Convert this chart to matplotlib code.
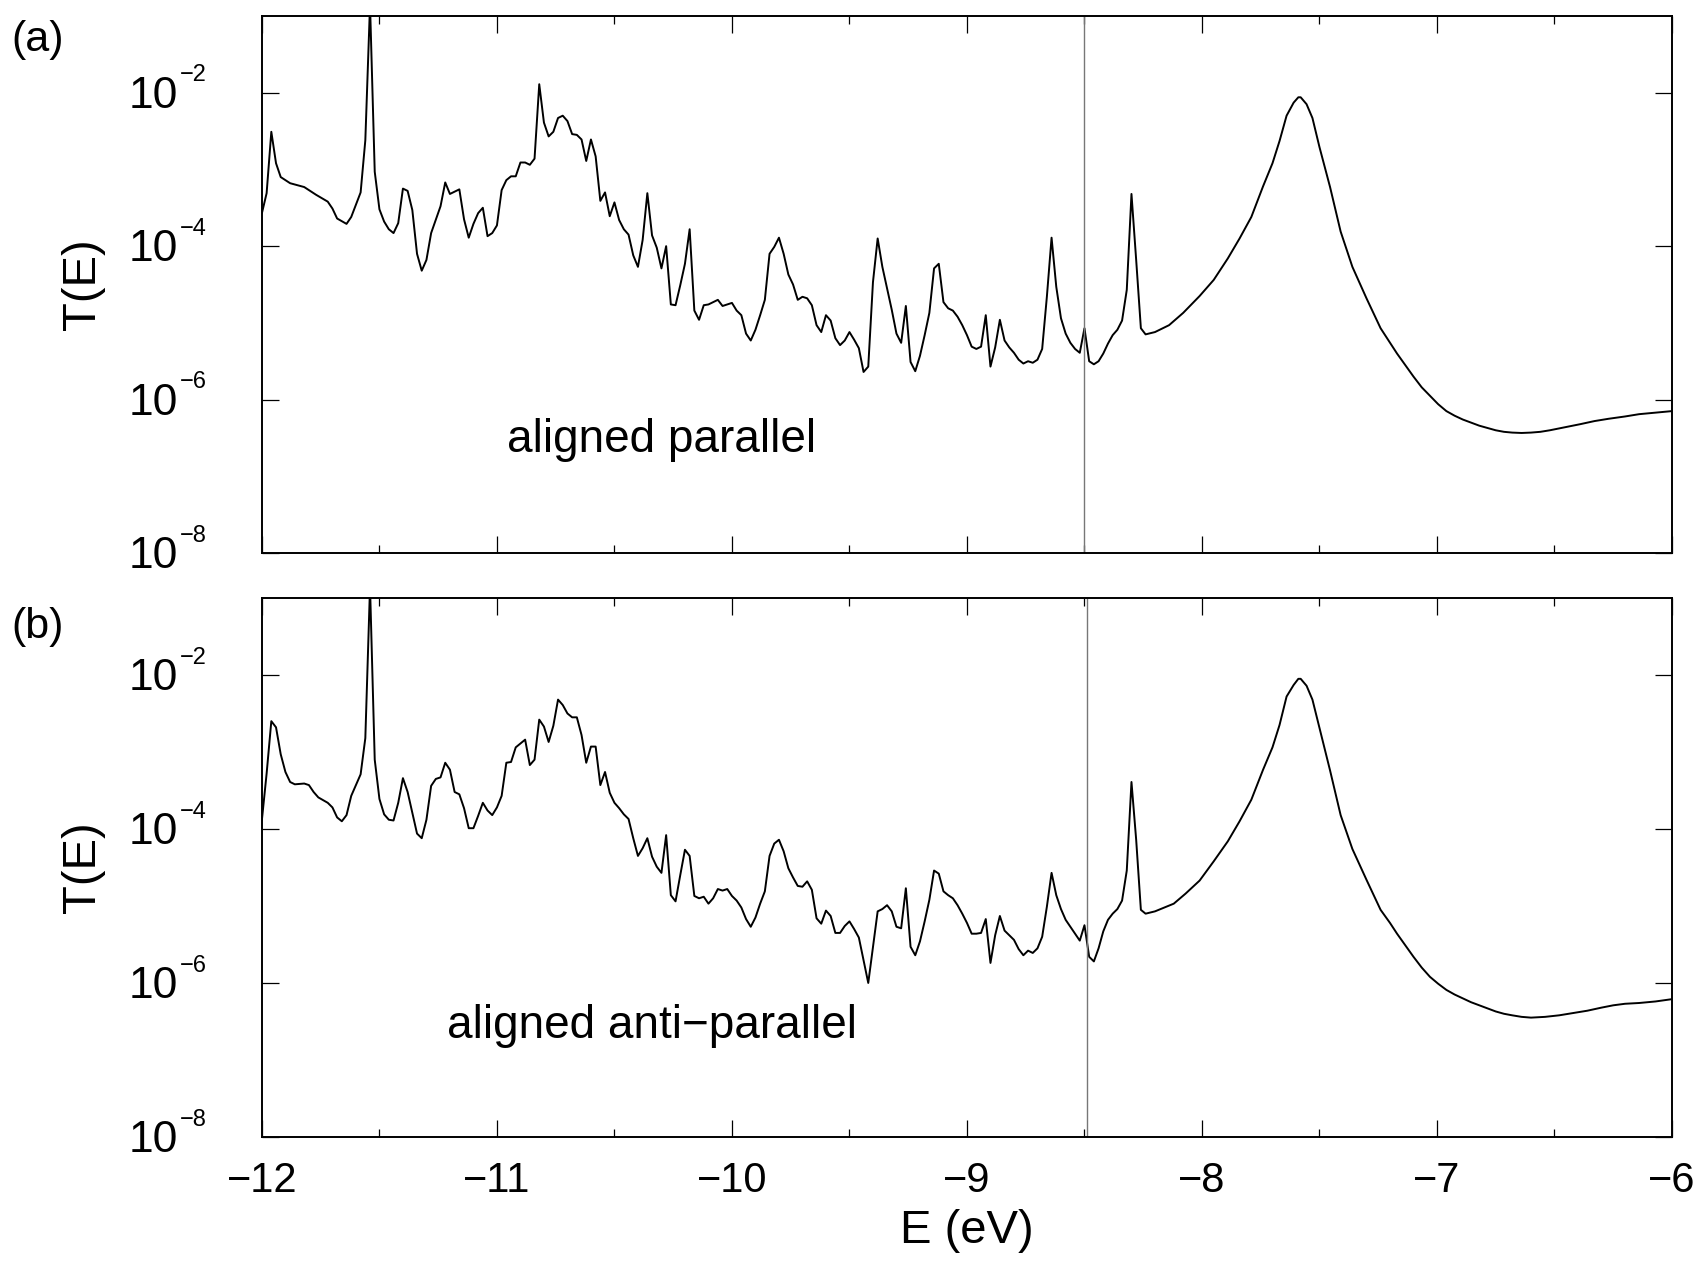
import numpy as np
import matplotlib
matplotlib.use("Agg")
import matplotlib.pyplot as plt
from matplotlib.ticker import FixedLocator, MultipleLocator, NullLocator
from matplotlib.transforms import blended_transform_factory, ScaledTranslation

plt.rcParams['font.family'] = ['Liberation Sans', 'DejaVu Sans']

# energies (eV) and log10 T(E)
E_par = [-12.00, -11.98, -11.96, -11.94, -11.92, -11.88, -11.82, -11.77, -11.72, -11.70,
         -11.68, -11.64, -11.62, -11.58, -11.56, -11.54, -11.52, -11.50, -11.48, -11.46,
         -11.44, -11.42, -11.40, -11.38, -11.36, -11.34, -11.32, -11.30, -11.28, -11.24,
         -11.22, -11.20, -11.16, -11.14, -11.12, -11.10, -11.08, -11.06, -11.04, -11.02,
         -11.00, -10.98, -10.96, -10.94, -10.92, -10.90, -10.88, -10.86, -10.84, -10.82,
         -10.80, -10.78, -10.76, -10.74, -10.72, -10.70, -10.68, -10.66, -10.64, -10.62,
         -10.60, -10.58, -10.56, -10.54, -10.52, -10.50, -10.48, -10.46, -10.44, -10.42,
         -10.40, -10.38, -10.36, -10.34, -10.32, -10.30, -10.28, -10.26, -10.24, -10.22,
         -10.20, -10.18, -10.16, -10.14, -10.12, -10.10, -10.08, -10.06, -10.04, -10.02,
         -10.00, -9.98, -9.96, -9.94, -9.92, -9.90, -9.88, -9.86, -9.84, -9.82,
         -9.80, -9.78, -9.76, -9.74, -9.72, -9.70, -9.68, -9.66, -9.64, -9.62,
         -9.60, -9.58, -9.56, -9.54, -9.52, -9.50, -9.48, -9.46, -9.44, -9.42,
         -9.40, -9.38, -9.36, -9.34, -9.32, -9.30, -9.28, -9.26, -9.24, -9.22,
         -9.20, -9.18, -9.16, -9.14, -9.12, -9.10, -9.08, -9.06, -9.04, -9.02,
         -9.00, -8.98, -8.96, -8.94, -8.92, -8.90, -8.88, -8.86, -8.84, -8.82,
         -8.80, -8.78, -8.76, -8.74, -8.72, -8.70, -8.68, -8.66, -8.64, -8.62,
         -8.60, -8.58, -8.56, -8.54, -8.52, -8.50, -8.48, -8.46, -8.44, -8.42,
         -8.40, -8.38, -8.36, -8.34, -8.32, -8.30, -8.28, -8.26, -8.24, -8.20,
         -8.14, -8.08, -8.01, -7.95, -7.89, -7.84, -7.79, -7.74, -7.70, -7.67,
         -7.64, -7.61, -7.59, -7.58, -7.555, -7.53, -7.50, -7.455, -7.41, -7.36,
         -7.30, -7.24, -7.20, -7.17, -7.135, -7.10, -7.065, -7.03, -6.995, -6.96,
         -6.925, -6.89, -6.855, -6.82, -6.785, -6.75, -6.715, -6.68, -6.64, -6.60,
         -6.56, -6.52, -6.455, -6.39, -6.33, -6.27, -6.20, -6.14, -6.07, -6.00]
logT_par = [-3.57, -3.31, -2.51, -2.92, -3.10, -3.18, -3.23, -3.33, -3.42, -3.51,
            -3.64, -3.71, -3.62, -3.30, -2.62, -0.85, -3.03, -3.52, -3.68, -3.78,
            -3.83, -3.70, -3.25, -3.28, -3.53, -4.10, -4.32, -4.18, -3.83, -3.48,
            -3.17, -3.32, -3.26, -3.65, -3.89, -3.71, -3.57, -3.50, -3.87, -3.83,
            -3.73, -3.27, -3.14, -3.09, -3.09, -2.91, -2.91, -2.94, -2.86, -1.89,
            -2.39, -2.57, -2.51, -2.33, -2.30, -2.37, -2.54, -2.55, -2.61, -2.89,
            -2.61, -2.83, -3.41, -3.30, -3.61, -3.43, -3.66, -3.78, -3.85, -4.12,
            -4.27, -3.92, -3.31, -3.86, -4.02, -4.29, -4.00, -4.76, -4.77, -4.51,
            -4.23, -3.78, -4.84, -4.96, -4.77, -4.76, -4.73, -4.70, -4.78, -4.76,
            -4.74, -4.84, -4.90, -5.14, -5.23, -5.09, -4.90, -4.70, -4.10, -4.01,
            -3.89, -4.10, -4.37, -4.50, -4.70, -4.66, -4.68, -4.77, -5.03, -5.12,
            -4.90, -4.97, -5.20, -5.29, -5.23, -5.12, -5.22, -5.33, -5.64, -5.57,
            -4.47, -3.90, -4.27, -4.55, -4.83, -5.14, -5.26, -4.78, -5.51, -5.63,
            -5.43, -5.16, -4.87, -4.29, -4.23, -4.73, -4.81, -4.84, -4.92, -5.03,
            -5.16, -5.31, -5.34, -5.31, -4.90, -5.57, -5.32, -4.96, -5.23, -5.32,
            -5.39, -5.48, -5.53, -5.50, -5.52, -5.48, -5.34, -4.66, -3.89, -4.53,
            -4.94, -5.14, -5.26, -5.34, -5.39, -5.07, -5.50, -5.54, -5.50, -5.40,
            -5.27, -5.16, -5.09, -4.97, -4.57, -3.32, -4.18, -5.07, -5.15, -5.12,
            -5.03, -4.87, -4.65, -4.44, -4.16, -3.90, -3.62, -3.22, -2.92, -2.63,
            -2.30, -2.13, -2.06, -2.06, -2.15, -2.33, -2.71, -3.23, -3.81, -4.27,
            -4.68, -5.07, -5.26, -5.40, -5.55, -5.70, -5.84, -5.95, -6.06, -6.15,
            -6.21, -6.26, -6.30, -6.34, -6.37, -6.40, -6.42, -6.43, -6.435, -6.43,
            -6.42, -6.40, -6.36, -6.32, -6.28, -6.25, -6.22, -6.19, -6.17, -6.15]

E_anti = [-12.00, -11.98, -11.96, -11.94, -11.92, -11.90, -11.88, -11.86, -11.82, -11.80,
          -11.78, -11.76, -11.72, -11.70, -11.68, -11.66, -11.64, -11.62, -11.60, -11.58,
          -11.56, -11.54, -11.52, -11.50, -11.48, -11.46, -11.44, -11.42, -11.40, -11.38,
          -11.36, -11.34, -11.32, -11.30, -11.28, -11.26, -11.24, -11.22, -11.20, -11.18,
          -11.16, -11.14, -11.12, -11.10, -11.08, -11.06, -11.04, -11.02, -11.00, -10.98,
          -10.96, -10.94, -10.92, -10.90, -10.88, -10.86, -10.84, -10.82, -10.80, -10.78,
          -10.76, -10.74, -10.72, -10.70, -10.68, -10.66, -10.64, -10.62, -10.60, -10.58,
          -10.56, -10.54, -10.52, -10.50, -10.48, -10.46, -10.44, -10.42, -10.40, -10.38,
          -10.36, -10.34, -10.32, -10.30, -10.28, -10.26, -10.24, -10.22, -10.20, -10.18,
          -10.16, -10.14, -10.12, -10.10, -10.08, -10.06, -10.04, -10.02, -10.00, -9.98,
          -9.96, -9.94, -9.92, -9.90, -9.88, -9.86, -9.84, -9.82, -9.80, -9.78,
          -9.76, -9.74, -9.72, -9.70, -9.68, -9.66, -9.64, -9.62, -9.60, -9.58,
          -9.56, -9.54, -9.52, -9.50, -9.48, -9.46, -9.42, -9.40, -9.38, -9.36,
          -9.34, -9.32, -9.30, -9.28, -9.26, -9.24, -9.22, -9.20, -9.18, -9.16,
          -9.14, -9.12, -9.10, -9.08, -9.06, -9.04, -9.02, -9.00, -8.98, -8.96,
          -8.94, -8.92, -8.90, -8.88, -8.86, -8.84, -8.82, -8.80, -8.78, -8.76,
          -8.74, -8.72, -8.70, -8.68, -8.66, -8.64, -8.62, -8.60, -8.58, -8.56,
          -8.54, -8.52, -8.50, -8.48, -8.46, -8.44, -8.42, -8.40, -8.38, -8.36,
          -8.34, -8.32, -8.30, -8.28, -8.26, -8.24, -8.20, -8.12, -8.07, -8.01,
          -7.95, -7.89, -7.84, -7.79, -7.74, -7.70, -7.67, -7.64, -7.61, -7.59,
          -7.58, -7.555, -7.53, -7.50, -7.455, -7.41, -7.36, -7.30, -7.24, -7.20,
          -7.17, -7.135, -7.10, -7.065, -7.03, -6.995, -6.96, -6.925, -6.89, -6.855,
          -6.82, -6.785, -6.75, -6.715, -6.68, -6.64, -6.60, -6.54, -6.48, -6.42,
          -6.36, -6.30, -6.25, -6.20, -6.14, -6.07, -6.00]
logT_anti = [-3.88, -3.28, -2.60, -2.68, -3.03, -3.26, -3.39, -3.42, -3.41, -3.43,
             -3.52, -3.59, -3.66, -3.72, -3.85, -3.90, -3.82, -3.57, -3.43, -3.29,
             -2.82, -0.85, -3.10, -3.61, -3.81, -3.88, -3.89, -3.66, -3.34, -3.52,
             -3.79, -4.06, -4.12, -3.88, -3.44, -3.35, -3.33, -3.14, -3.23, -3.52,
             -3.55, -3.73, -3.99, -3.99, -3.83, -3.66, -3.76, -3.82, -3.72, -3.57,
             -3.14, -3.13, -2.94, -2.89, -2.84, -3.17, -3.10, -2.58, -2.67, -2.87,
             -2.66, -2.32, -2.39, -2.50, -2.55, -2.55, -2.78, -3.14, -2.93, -2.93,
             -3.43, -3.26, -3.53, -3.66, -3.73, -3.81, -3.87, -4.12, -4.35, -4.25,
             -4.12, -4.36, -4.49, -4.57, -4.08, -4.86, -4.94, -4.60, -4.27, -4.35,
             -4.87, -4.90, -4.88, -4.97, -4.90, -4.78, -4.80, -4.78, -4.87, -4.93,
             -5.02, -5.17, -5.27, -5.15, -4.97, -4.81, -4.35, -4.19, -4.14, -4.29,
             -4.51, -4.63, -4.74, -4.75, -4.68, -4.79, -5.16, -5.23, -5.06, -5.13,
             -5.35, -5.35, -5.26, -5.20, -5.30, -5.41, -6.00, -5.53, -5.07, -5.04,
             -4.99, -5.07, -5.27, -5.29, -4.77, -5.53, -5.64, -5.46, -5.20, -4.92,
             -4.54, -4.58, -4.81, -4.86, -4.90, -4.99, -5.10, -5.22, -5.36, -5.36,
             -5.35, -5.17, -5.74, -5.38, -5.13, -5.32, -5.38, -5.44, -5.56, -5.64,
             -5.58, -5.61, -5.55, -5.40, -5.01, -4.57, -4.86, -5.04, -5.18, -5.27,
             -5.36, -5.45, -5.25, -5.66, -5.72, -5.55, -5.33, -5.18, -5.10, -5.04,
             -4.93, -4.54, -3.39, -4.14, -5.05, -5.10, -5.07, -4.97, -4.84, -4.67,
             -4.42, -4.16, -3.90, -3.62, -3.23, -2.94, -2.65, -2.28, -2.13, -2.05,
             -2.05, -2.14, -2.32, -2.69, -3.24, -3.82, -4.26, -4.66, -5.05, -5.22,
             -5.36, -5.51, -5.66, -5.80, -5.92, -6.01, -6.09, -6.15, -6.20, -6.25,
             -6.29, -6.33, -6.37, -6.40, -6.42, -6.44, -6.45, -6.44, -6.42, -6.39,
             -6.36, -6.32, -6.29, -6.27, -6.26, -6.24, -6.21]

vline_E = [-8.50, -8.49]
panel_tags = ["(a)", "(b)"]
panel_texts = ["aligned parallel", "aligned anti\u2212parallel"]
text_pos = [(-10.30, 10 ** -6.53), (-10.34, 10 ** -6.56)]
yticks = [1e-8, 1e-6, 1e-4, 1e-2]

fig = plt.figure(figsize=(17.03, 12.65), dpi=100)
ax1 = fig.add_axes([0.1538, 0.5628, 0.828, 0.4246])
ax2 = fig.add_axes([0.1538, 0.1012, 0.828, 0.4261])

series = [(E_par, logT_par), (E_anti, logT_anti)]
for i, ax in enumerate([ax1, ax2]):
    E, lt = series[i]
    ax.plot(E, 10 ** np.array(lt), color='black', lw=1.4)
    ax.axvline(vline_E[i], color='#777777', lw=1.0)
    ax.set_yscale('log')
    ax.set_xlim(-12, -6)
    ax.set_ylim(1e-8, 1e-1)
    ax.yaxis.set_major_locator(FixedLocator(yticks))
    ax.yaxis.set_minor_locator(NullLocator())
    ax.xaxis.set_major_locator(MultipleLocator(1))
    ax.xaxis.set_minor_locator(MultipleLocator(0.5))
    ax.tick_params(which='both', direction='in', top=True, right=True,
                   labelsize=30, width=0.9, labelleft=False)
    ax.tick_params(which='major', length=12, pad=17)
    ax.tick_params(which='minor', length=6)
    for s in ax.spines.values():
        s.set_linewidth(1.4)

    # 10^k labels drawn by hand so the exponent is small like the original
    tr = blended_transform_factory(ax.transAxes, ax.transData)
    down = ScaledTranslation(0, -0.15, fig.dpi_scale_trans)
    up = ScaledTranslation(0, 0.113, fig.dpi_scale_trans)
    for v in yticks:
        k = int(round(np.log10(v)))
        ax.text(-0.0596, v, "10", fontsize=32, ha='right', va='baseline',
                transform=tr + down)
        ax.text(-0.0584, v, "\u2212%d" % (-k), fontsize=17, ha='left',
                va='baseline', transform=tr + up)

    ax.set_ylabel("T(E)", fontsize=34)
    ax.yaxis.set_label_coords(-0.111, 0.5)
    ax.text(text_pos[i][0], text_pos[i][1], panel_texts[i], fontsize=33,
            ha='center', va='center')

ax1.tick_params(labelbottom=False)
ax2.set_xlabel("E (eV)", fontsize=34)
ax2.xaxis.set_label_coords(0.5, -0.134)

fig.text(0.022, 0.968, panel_tags[0], fontsize=31, ha='center', va='center')
fig.text(0.022, 0.504, panel_tags[1], fontsize=31, ha='center', va='center')

fig.savefig("out.png", dpi=100)
